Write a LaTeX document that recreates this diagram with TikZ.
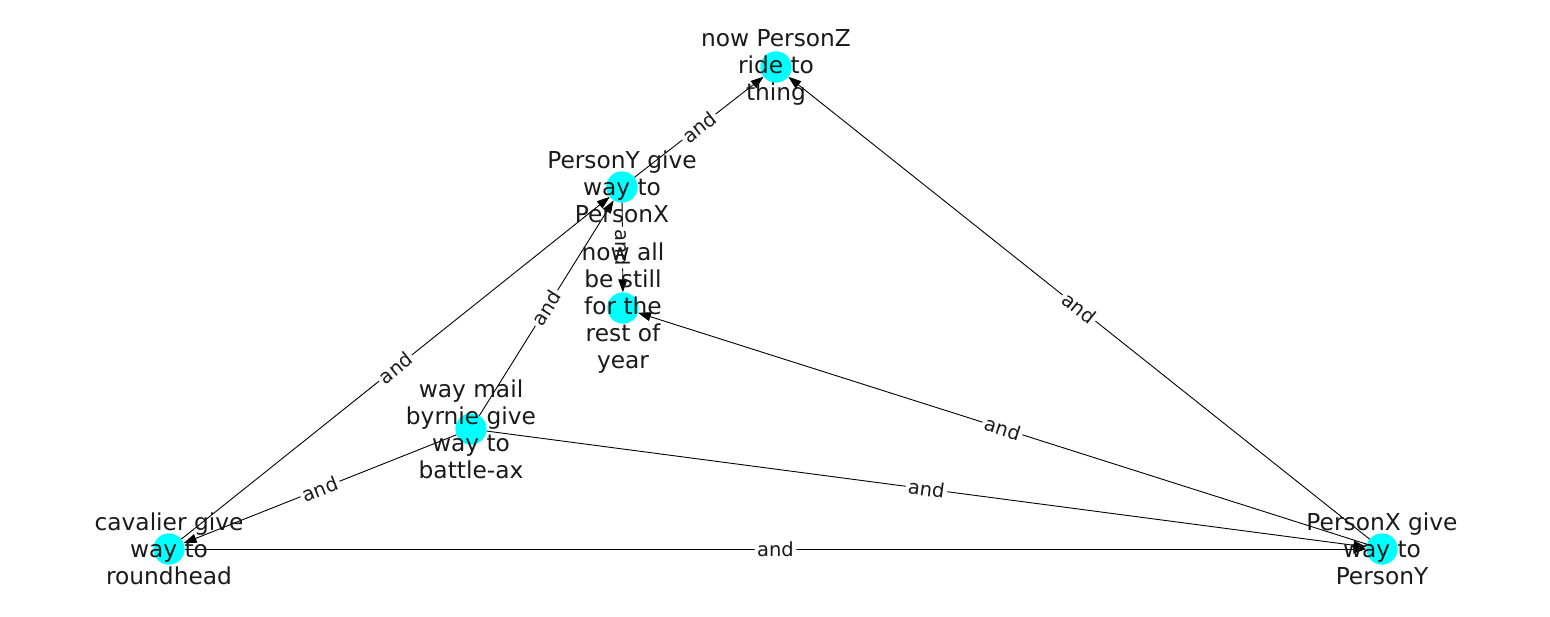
\documentclass[tikz,border=0pt]{standalone}
\usepackage{fontspec}
\setmainfont{DejaVu Sans}
\usetikzlibrary{arrows.meta}
\definecolor{nodecyan}{RGB}{0,255,255}
\definecolor{txt}{RGB}{26,26,26}
\tikzset{
  dot/.style={circle, fill=nodecyan, draw=none, minimum size=31pt, inner sep=0pt},
  ntext/.style={align=center, text=txt, font=\fontsize{23.3}{27}\selectfont, inner sep=0pt},
  edge/.style={draw=black, line width=0.9pt, -{Triangle[length=13pt,width=9pt]}},
  elabel/.style={fill=white, rounded corners=3pt, inner sep=2.5pt, text=txt, font=\fontsize{19.5}{21}\selectfont, midway, sloped}
}
\begin{document}
\begin{tikzpicture}[x=1pt,y=-1pt]
\useasboundingbox (0,0) rectangle (1550,616);
% circles
\node[dot] (z) at (776,67) {};
\node[dot] (y) at (622,187) {};
\node[dot] (a) at (623,308) {};
\node[dot] (w) at (471,429) {};
\node[dot] (c) at (169,549) {};
\node[dot] (x) at (1382,549) {};
% edges
\draw[edge] (y) -- (z);
\draw[edge] (x) -- (z);
\draw[edge] (c) -- (y);
\draw[edge] (w) -- (y);
\draw[edge] (y) -- (a);
\draw[edge] (x) -- (a);
\draw[edge] (w) -- (c);
\draw[edge] (w) -- (x);
\draw[edge] (c) -- (x);
% circles again on top of edges
\node[dot] at (z) {};
\node[dot] at (y) {};
\node[dot] at (a) {};
\node[dot] at (w) {};
\node[dot] at (c) {};
\node[dot] at (x) {};
% edge labels
\path (y) -- (z) node[elabel] (l1) {and};
\path (x) -- (z) node[elabel] (l2) {and};
\path (c) -- (y) node[elabel] (l3) {and};
\path (w) -- (y) node[elabel] (l4) {and};
\path (y) -- (a) node[elabel] (l5) {and};
\path (x) -- (a) node[elabel] (l6) {and};
\path (w) -- (c) node[elabel] (l7) {and};
\path (w) -- (x) node[elabel] (l8) {and};
\path (c) -- (x) node[elabel] (l9) {and};
% node texts
\node[ntext] (zt) at (z) {now PersonZ\\ride to\\thing};
\node[ntext] (yt) at (y) {PersonY give\\way to\\PersonX};
\node[ntext] (at) at (a) {now all\\be still\\for the\\rest of\\year};
\node[ntext] (wt) at (w) {way mail\\byrnie give\\way to\\battle-ax};
\node[ntext] (ct) at (c) {cavalier give\\way to\\roundhead};
\node[ntext] (xt) at (x) {PersonX give\\way to\\PersonY};
\end{tikzpicture}
\end{document}
